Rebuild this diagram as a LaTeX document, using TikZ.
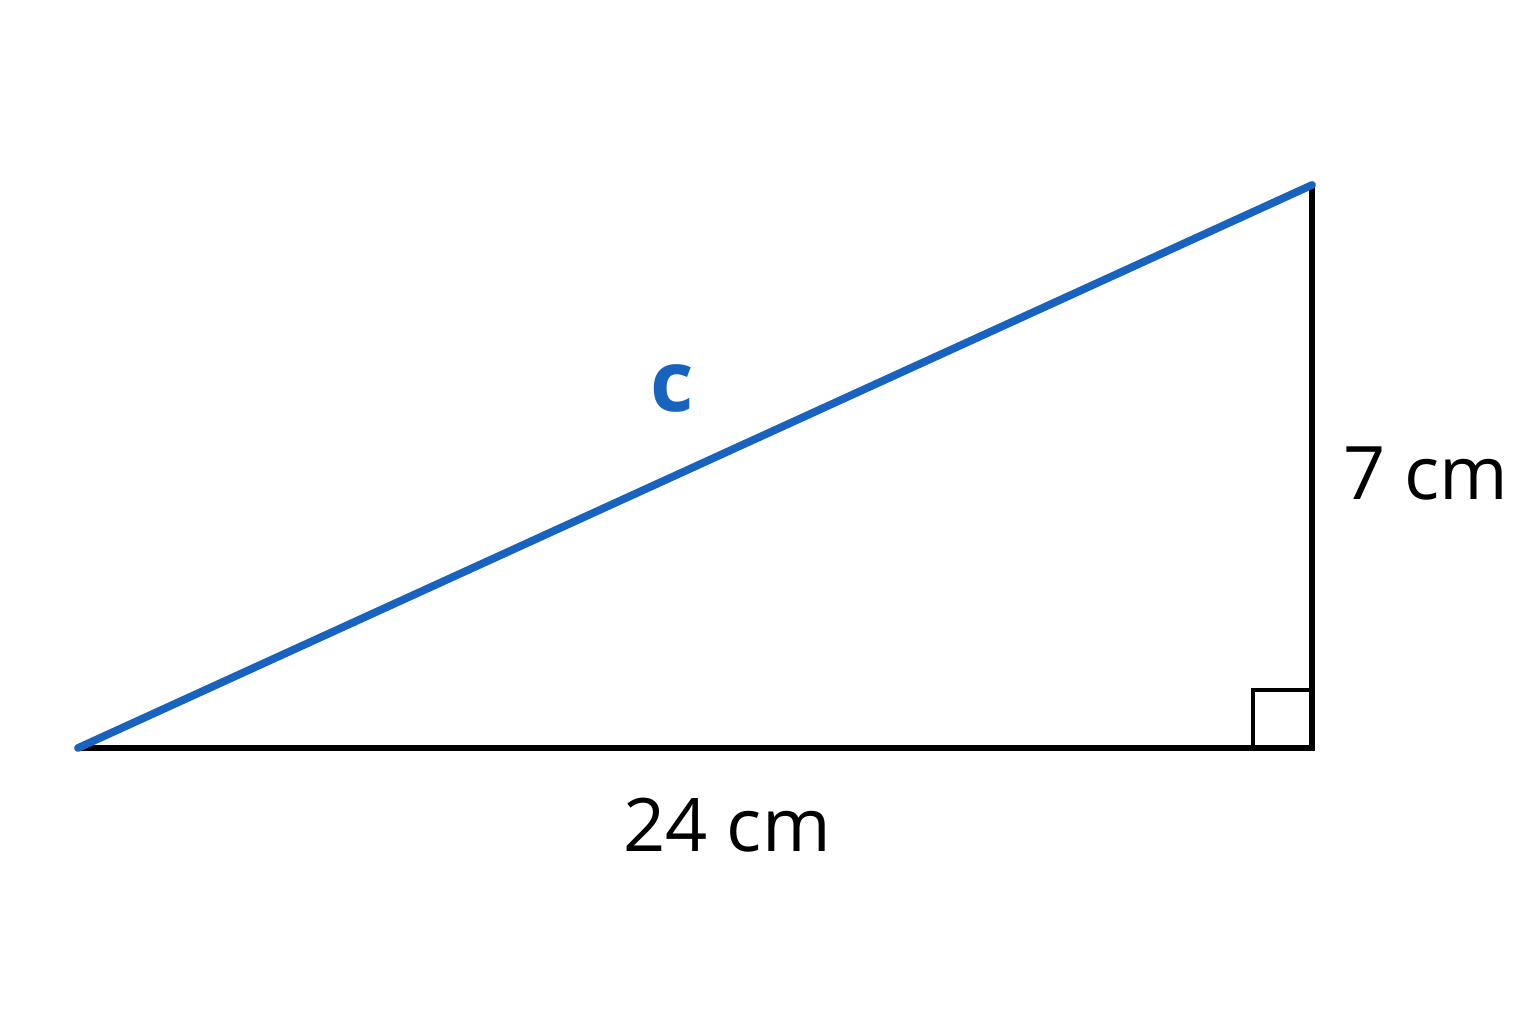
\documentclass[tikz,border=0pt]{standalone}
\usepackage{fontspec}
\setmainfont{Open Sans}
\usetikzlibrary{calc}
\definecolor{hypblue}{HTML}{1763BF}

\begin{document}
\begin{tikzpicture}
	\useasboundingbox (0,0) rectangle (15.36,10.24);
	\coordinate (A) at (0.78, 2.76);
	\coordinate (B) at (13.12, 2.76);
	\coordinate (C) at (13.12, 8.39);
	\draw[line width=1.9pt, line cap=round] (A) -- (B) -- (C);
	\draw[line width=1.3pt] ($(B)+(-0.59,0)$) -- ++(0,0.58) -- ++(0.59,0);
	\draw[line width=2.2pt, hypblue, line cap=round] (A) -- (C);
	\node[hypblue, font=\fontsize{24}{29}\selectfont\bfseries] (labc) at (6.72, 6.36) {c};
	\node[font=\fontsize{21}{25}\selectfont] (labb) at (14.26, 5.50) {7 cm};
	\node[font=\fontsize{21}{25}\selectfont] (laba) at (7.27, 1.99) {24 cm};
\end{tikzpicture}
\end{document}
